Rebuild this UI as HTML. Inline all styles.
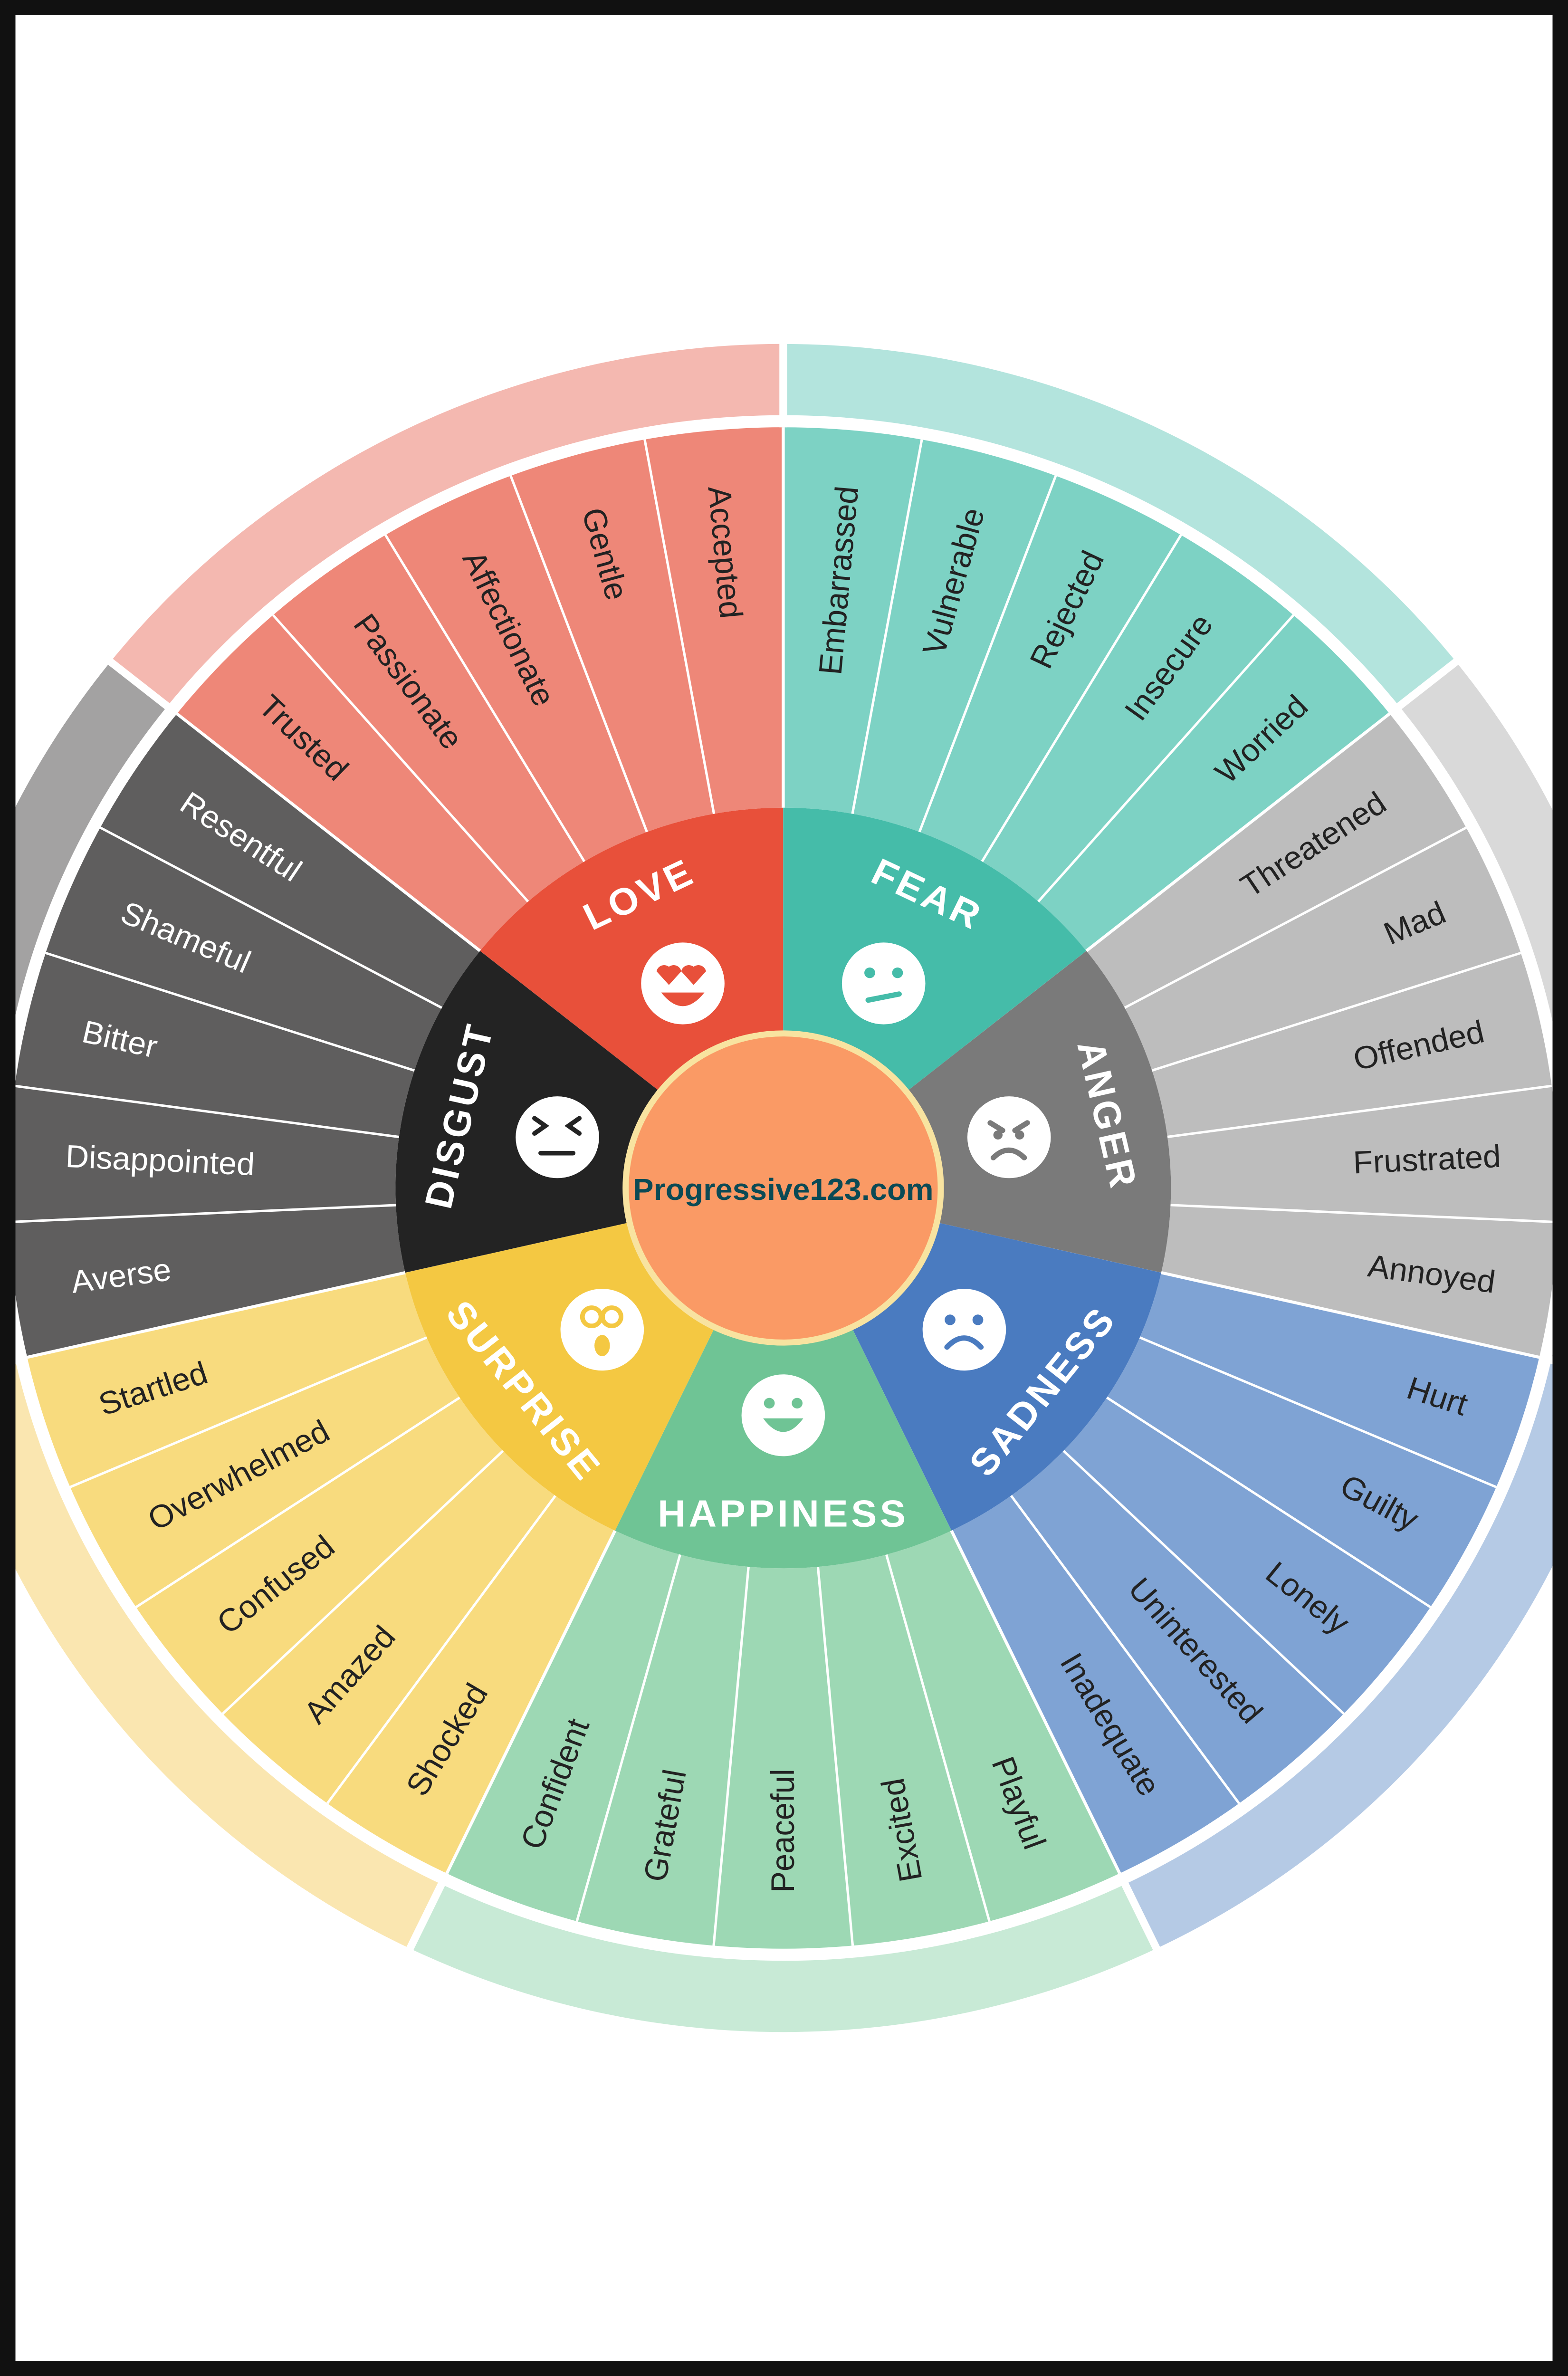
<!DOCTYPE html>
<html><head><meta charset="utf-8"><style>
html,body{margin:0;padding:0;background:#fff;width:100%;height:100%;overflow:hidden;}
svg{display:block;position:fixed;left:0;top:0;width:100vw;height:100vh;}
.w{font-family:"Liberation Sans",sans-serif;font-size:21px;fill:#222;dominant-baseline:central;}
.wd{fill:#fff;}
.e{font-family:"Liberation Sans",sans-serif;font-weight:bold;font-size:25px;fill:#fff;letter-spacing:2px;text-anchor:middle;dominant-baseline:central;}
</style></head><body>
<svg viewBox="0 0 1015 1568" preserveAspectRatio="none" xmlns="http://www.w3.org/2000/svg">
<defs>
<g id="band"><path d="M507,227 A557,557 0 0 1 942.5,436.7 L905.7,466.0 A510,510 0 0 0 507,274 Z"/></g>
<g id="word"><path d="M507,282 A502,502 0 0 1 899.5,471.0 L703.2,627.5 A251,251 0 0 0 507,533 Z"/></g>
<g id="inner"><path d="M507,784 L507,533 A251,251 0 0 1 703.2,627.5 Z"/></g>
<g id="lines" stroke="#fff" stroke-width="1.6">
<line x1="551.8" y1="537.0" x2="596.7" y2="290.1"/>
<line x1="595.2" y1="549.0" x2="683.4" y2="314.0"/>
<line x1="635.7" y1="568.5" x2="764.5" y2="353.0"/>
<line x1="672.1" y1="595.0" x2="837.3" y2="405.9"/>
<line x1="507" y1="533" x2="507" y2="282" stroke-width="2"/>
<line x1="507" y1="282" x2="507" y2="220" stroke-width="5"/>
</g>
</defs>
<rect width="1015" height="1568" fill="#fff"/>
<g transform="rotate(-51.43 507 784)"><use href="#band" fill="#F4B8B0"/><use href="#word" fill="#EE8778"/><use href="#inner" fill="#E8503A"/></g>
<g transform="rotate(0 507 784)"><use href="#band" fill="#B3E4DD"/><use href="#word" fill="#7DD2C4"/><use href="#inner" fill="#45BCA9"/></g>
<g transform="rotate(51.43 507 784)"><use href="#band" fill="#D9D9D9"/><use href="#word" fill="#BDBDBD"/><use href="#inner" fill="#7A7A7A"/></g>
<g transform="rotate(102.86 507 784)"><use href="#band" fill="#B5CAE5"/><use href="#word" fill="#7FA3D4"/><use href="#inner" fill="#4A7BC0"/></g>
<g transform="rotate(154.29 507 784)"><use href="#band" fill="#C8EAD6"/><use href="#word" fill="#9DD8B4"/><use href="#inner" fill="#6FC495"/></g>
<g transform="rotate(205.71 507 784)"><use href="#band" fill="#FAE6B0"/><use href="#word" fill="#F8DB7E"/><use href="#inner" fill="#F4C842"/></g>
<g transform="rotate(257.14 507 784)"><use href="#band" fill="#A3A2A2"/><use href="#word" fill="#5F5E5E"/><use href="#inner" fill="#232323"/></g>
<g transform="rotate(-51.43 507 784)"><use href="#lines"/></g>
<g transform="rotate(0 507 784)"><use href="#lines"/></g>
<g transform="rotate(51.43 507 784)"><use href="#lines"/></g>
<g transform="rotate(102.86 507 784)"><use href="#lines"/></g>
<g transform="rotate(154.29 507 784)"><use href="#lines"/></g>
<g transform="rotate(205.71 507 784)"><use href="#lines"/></g>
<g transform="rotate(257.14 507 784)"><use href="#lines"/></g>

<g class="w">
<text transform="rotate(43.71 507 784)" x="42" y="784">Trusted</text>
<text transform="rotate(54.0 507 784)" x="42" y="784">Passionate</text>
<text transform="rotate(64.29 507 784)" x="42" y="784">Affectionate</text>
<text transform="rotate(74.57 507 784)" x="42" y="784">Gentle</text>
<text transform="rotate(84.86 507 784)" x="42" y="784">Accepted</text>
<text transform="rotate(-84.86 507 784)" x="972" y="784" text-anchor="end">Embarrassed</text>
<text transform="rotate(-74.57 507 784)" x="972" y="784" text-anchor="end">Vulnerable</text>
<text transform="rotate(-64.29 507 784)" x="972" y="784" text-anchor="end">Rejected</text>
<text transform="rotate(-54.0 507 784)" x="972" y="784" text-anchor="end">Insecure</text>
<text transform="rotate(-43.71 507 784)" x="972" y="784" text-anchor="end">Worried</text>
<text transform="rotate(-33.43 507 784)" x="972" y="784" text-anchor="end">Threatened</text>
<text transform="rotate(-23.14 507 784)" x="972" y="784" text-anchor="end">Mad</text>
<text transform="rotate(-12.86 507 784)" x="972" y="784" text-anchor="end">Offended</text>
<text transform="rotate(-2.57 507 784)" x="972" y="784" text-anchor="end">Frustrated</text>
<text transform="rotate(7.71 507 784)" x="972" y="784" text-anchor="end">Annoyed</text>
<text transform="rotate(18.0 507 784)" x="972" y="784" text-anchor="end">Hurt</text>
<text transform="rotate(28.29 507 784)" x="972" y="784" text-anchor="end">Guilty</text>
<text transform="rotate(38.57 507 784)" x="972" y="784" text-anchor="end">Lonely</text>
<text transform="rotate(48.86 507 784)" x="972" y="784" text-anchor="end">Uninterested</text>
<text transform="rotate(59.14 507 784)" x="972" y="784" text-anchor="end">Inadequate</text>
<text transform="rotate(69.43 507 784)" x="972" y="784" text-anchor="end">Playful</text>
<text transform="rotate(259.71 507 784)" x="42" y="784">Excited</text>
<text transform="rotate(270 507 784)" x="42" y="784">Peaceful</text>
<text transform="rotate(280.29 507 784)" x="42" y="784">Grateful</text>
<text transform="rotate(290.57 507 784)" x="42" y="784">Confident</text>
<text transform="rotate(300.86 507 784)" x="42" y="784">Shocked</text>
<text transform="rotate(311.14 507 784)" x="42" y="784">Amazed</text>
<text transform="rotate(321.43 507 784)" x="42" y="784">Confused</text>
<text transform="rotate(331.71 507 784)" x="42" y="784">Overwhelmed</text>
<text transform="rotate(342 507 784)" x="42" y="784">Startled</text>
<text class="w wd" transform="rotate(352.29 507 784)" x="42" y="784">Averse</text>
<text class="w wd" transform="rotate(362.57 507 784)" x="42" y="784">Disappointed</text>
<text class="w wd" transform="rotate(372.86 507 784)" x="42" y="784">Bitter</text>
<text class="w wd" transform="rotate(383.14 507 784)" x="42" y="784">Shameful</text>
<text class="w wd" transform="rotate(393.43 507 784)" x="42" y="784">Resentful</text>
</g>

<text class="e" transform="translate(413.7 590.3) rotate(-25.7)">LOVE</text>
<text class="e" transform="translate(600.3 590.3) rotate(25.7)">FEAR</text>
<text class="e" transform="translate(716.6 736.1) rotate(77.1)">ANGER</text>
<text class="e" transform="translate(675.1 918.1) rotate(-51.4)">SADNESS</text>
<text class="e" transform="translate(507 999)">HAPPINESS</text>
<text class="e" transform="translate(339 918.1) rotate(51.4)">SURPRISE</text>
<text class="e" transform="translate(297.4 736.1) rotate(-77.1)">DISGUST</text>

<g fill="#fff">
<circle cx="442" cy="649" r="27"/><circle cx="572" cy="649" r="27"/><circle cx="653.2" cy="750.5" r="27"/>
<circle cx="624.2" cy="877.5" r="27"/><circle cx="507" cy="934" r="27"/><circle cx="389.8" cy="877.5" r="27"/><circle cx="360.8" cy="750.5" r="27"/>
</g>
<g fill="#E8503A"><path d="M428,641 a5,5 0 0 1 8,-3 a5,5 0 0 1 8,3 l-8,9z" transform="translate(-3 0)"/><path d="M444,641 a5,5 0 0 1 8,-3 a5,5 0 0 1 8,3 l-8,9z" transform="translate(-3 0)"/>
<path d="M428,655 q14,18 28,0z"/></g>
<g fill="#45BCA9"><circle cx="563" cy="642" r="3.5"/><circle cx="581" cy="642" r="3.5"/></g>
<line x1="562" y1="660" x2="582" y2="656" stroke="#45BCA9" stroke-width="3.5" stroke-linecap="round"/>
<g stroke="#7A7A7A" stroke-width="3.5" stroke-linecap="round" fill="none"><line x1="641" y1="741" x2="649" y2="746"/><line x1="665" y1="741" x2="657" y2="746"/><path d="M643,764 q10,-10 20,0"/></g>
<g fill="#7A7A7A"><circle cx="646" cy="749" r="3"/><circle cx="660" cy="749" r="3"/></g>
<g fill="#4A7BC0"><circle cx="615" cy="871" r="3.5"/><circle cx="633" cy="871" r="3.5"/></g>
<path d="M613,889 q11,-12 22,0" stroke="#4A7BC0" stroke-width="3.5" fill="none" stroke-linecap="round"/>
<g fill="#6FC495"><circle cx="498" cy="926" r="3.5"/><circle cx="516" cy="926" r="3.5"/><path d="M494,936 h26 q-13,18 -26,0z"/></g>
<g stroke="#F4C842" stroke-width="3" fill="none"><circle cx="383" cy="869" r="6"/><circle cx="396" cy="869" r="6"/></g>
<ellipse cx="389.8" cy="888" rx="5" ry="7" fill="#F4C842"/>
<g stroke="#232323" stroke-width="3" stroke-linecap="round" fill="none"><path d="M346,738 l7,5 l-7,5"/><path d="M375,738 l-7,5 l7,5"/><line x1="350" y1="761" x2="371" y2="761"/></g>

<circle cx="507" cy="784" r="102" fill="#FA9A65" stroke="#F8E3A0" stroke-width="4"/>
<text x="507" y="785" text-anchor="middle" dominant-baseline="central" font-family="'Liberation Sans',sans-serif" font-weight="bold" font-size="20" fill="#0B4A55">Progressive123.com</text>

<path d="M0,0 H1015 V1568 H0 Z M10,10 V1558 H1005 V10 Z" fill="#111" fill-rule="evenodd"/>
</svg>
</body></html>
